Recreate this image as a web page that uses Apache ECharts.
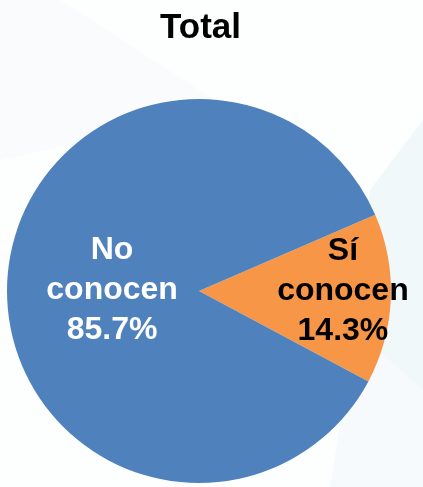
<!DOCTYPE html>
<html>
<head>
<meta charset="utf-8">
<script src="https://cdn.jsdelivr.net/npm/echarts@6/dist/echarts.min.js"></script>
<style>
  html, body { margin: 0; padding: 0; background: #fdfefe; }
  #main { width: 423px; height: 487px; }
</style>
</head>
<body>
<div id="main"></div>
<script>
const categories = ['Sí conocen', 'No conocen'];
const values = [14.3, 85.7];
const colors = ['#F79646', '#4F81BD'];
const labelColors = ['#000000', '#ffffff'];
const labelOffsets = [[45, -4], [12, 3]];

const chart = echarts.init(document.getElementById('main'));

const pieData = categories.map((name, i) => ({
  name: name,
  value: values[i],
  itemStyle: { color: colors[i] },
  label: { color: labelColors[i], offset: labelOffsets[i] }
}));

chart.setOption({
  backgroundColor: '#fdfefe',
  animation: false,
  graphic: [
    {
      type: 'polygon', z: -10, silent: true,
      shape: { points: [[0, 0], [60, 0], [230, 110], [0, 160]] },
      style: { fill: '#f9fbfc' }
    },
    {
      type: 'polygon', z: -10, silent: true,
      shape: { points: [[423, 120], [370, 190], [355, 330], [423, 390]] },
      style: { fill: '#f1f8f9' }
    },
    {
      type: 'polygon', z: -10, silent: true,
      shape: { points: [[423, 390], [355, 330], [330, 487], [423, 487]] },
      style: { fill: '#f7fafc' }
    }
  ],
  title: {
    text: 'Total',
    left: 155,
    top: 6,
    textStyle: {
      fontFamily: 'Liberation Sans, Arial, sans-serif',
      fontSize: 35,
      fontWeight: 'bold',
      color: '#000'
    }
  },
  series: [{
    type: 'pie',
    center: [199, 291],
    radius: 192,
    startAngle: 23.4,
    clockwise: true,
    silent: true,
    data: pieData,
    labelLine: { show: false },
    label: {
      show: true,
      position: 'inside',
      fontFamily: 'Liberation Sans, Arial, sans-serif',
      fontSize: 32,
      fontWeight: 'bold',
      lineHeight: 40,
      formatter: p => p.name.replace(' ', '\n') + '\n' + p.value.toFixed(1) + '%'
    }
  }]
});
</script>
</body>
</html>
